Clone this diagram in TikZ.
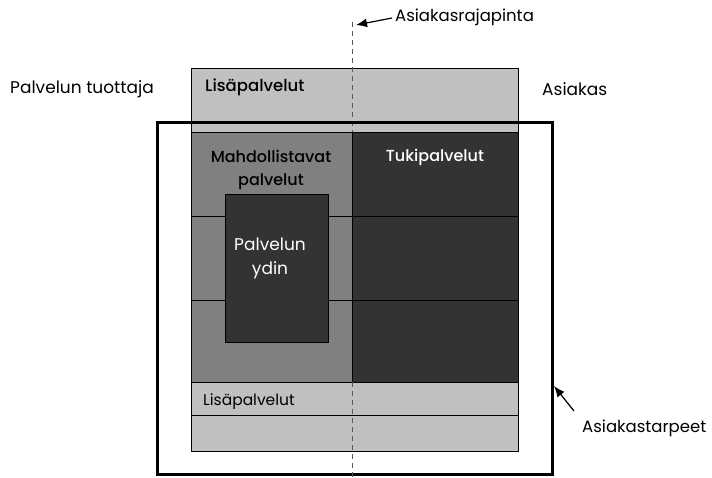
\documentclass[tikz,border=0pt]{standalone}
\usepackage{fontspec}
\setmainfont{Poppins}[BoldFont={Poppins Medium}]
\usetikzlibrary{positioning,arrows.meta}
\definecolor{lgray}{HTML}{C0C0C0}\definecolor{mgray}{HTML}{808080}\definecolor{dgray}{HTML}{333333}

\begin{document}
\begin{tikzpicture}[x=1pt,y=-1pt,font=\fontsize{17}{20}\selectfont,
  box/.style={draw,anchor=north west,inner sep=0,line width=.8},
  lbl/.style={inner sep=0,align=center},
  pointer/.style={-{Latex[length=11,width=9]},line width=1.2}]
\useasboundingbox (0,0) rectangle (712,477);
% ylin lisapalvelukaista
\node[box,fill=lgray,minimum width=327,minimum height=64] (lisa) at (191,68){};
\node[lbl,font=\fontsize{16.5}{20}\selectfont\bfseries,anchor=west] (lisatxt) at (205,87){Lisäpalvelut};
\coordinate (dtop) at (352,22);\coordinate (dmid) at (352,132);
\draw[dashed,gray!70!black,dash pattern=on 5 off 4,line width=.9](dtop)--(dmid);
% asiakastarpeet
\node[draw,anchor=north west,line width=2.5,minimum width=395,minimum height=352,inner sep=0] (tarve) at (156,121){};
% mahdollistavat ja tukipalvelut
\foreach \y/\h [count=\i] in {132/84,216/84,300/82}{
  \node[box,fill=mgray,minimum width=161,minimum height=\h] (mp\i) at (191,\y){};
  \node[box,fill=dgray,minimum width=166,minimum height=\h] (tp\i) at (352,\y){};}
\node[lbl,font=\fontsize{16}{23}\selectfont\bfseries,text=black] (mptxt) at (271,170){Mahdollistavat\\palvelut};
\node[lbl,font=\fontsize{16}{20}\selectfont\bfseries,text=white] (tptxt) at (435,157){Tukipalvelut};
\node[box,fill=dgray,minimum width=103,minimum height=148] (ydin) at (225,194){};
\node[lbl,text=white,font=\fontsize{17}{24}\selectfont] (ydintxt) at (270,258){Palvelun\\ydin};
% alin lisapalvelukaista
\node[box,fill=lgray,minimum width=327,minimum height=33] (lisa2) at (191,382){};
\node[box,fill=lgray,minimum width=327,minimum height=36] (lisa3) at (191,415){};
\node[lbl,anchor=west,font=\fontsize{15.5}{18}\selectfont] (lisa2txt) at (203,402){Lisäpalvelut};
\coordinate (dlow) at (352,382);\coordinate (dbot) at (352,477);
\draw[dashed,gray!70!black,dash pattern=on 5 off 4,line width=.9](dlow)--(dbot);
% selitteet
\node[lbl,anchor=west] (tuottaja) at (10,89){Palvelun tuottaja};
\node[lbl,anchor=west] (asiakas) at (542,89){Asiakas};
\node[lbl,anchor=west,font=\fontsize{16.5}{20}\selectfont] (raja) at (395,17){Asiakasrajapinta};
\node[lbl,anchor=west,font=\fontsize{16.5}{20}\selectfont] (tarvetxt) at (582,428){Asiakastarpeet};
\coordinate (rajapt) at (356,25);\coordinate (tarvept) at (554,386);
\draw[pointer](raja.west)++(-3,1)--(rajapt);
\draw[pointer](574,411)--(tarvept);
\end{tikzpicture}
\end{document}
